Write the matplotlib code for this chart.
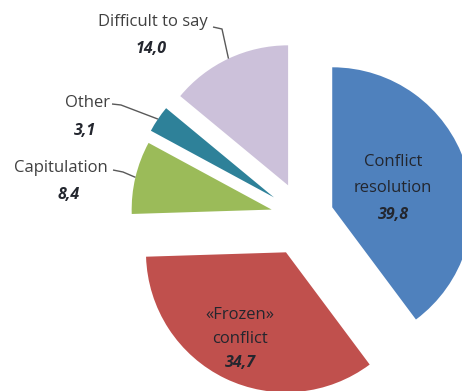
import numpy as np
import matplotlib
matplotlib.use("Agg")
import matplotlib.pyplot as plt

# Survey shares (%), drawn clockwise from 12 o'clock
categories = ["Conflict\nresolution", "\u00abFrozen\u00bb\nconflict", "Capitulation", "Other", "Difficult to say"]
values = [39.8, 34.7, 8.4, 3.1, 14.0]
colors = ["#4F81BD", "#C0504D", "#9BBB59", "#2E8199", "#CCC1DA"]
explode = [0.22, 0.28, 0.23, 0.25, 0.25]

W, H = 462, 391
R_PX = 140.0            # pie radius in pixels
CX, CY = 303.0, 217.0   # pie centre in pixels (from top-left)

plt.rcParams["font.family"] = ["Open Sans", "DejaVu Sans"]

fig = plt.figure(figsize=(W / 100, H / 100), dpi=100)
ax = fig.add_axes([0, 0, 1, 1])


def px(x, y):
    """Pixel position (from top-left) -> data coordinates."""
    return (x - CX) / R_PX, (CY - y) / R_PX


wedges, _ = ax.pie(values, colors=colors, explode=explode, startangle=90,
                   counterclock=False, radius=1.0,
                   wedgeprops=dict(linewidth=0))

ax.set_xlim(-CX / R_PX, (W - CX) / R_PX)
ax.set_ylim(-(H - CY) / R_PX, CY / R_PX)
ax.set_aspect("auto")
ax.axis("off")


def fmt(v):
    return f"{v:.1f}".replace(".", ",")


txt_color = "#23262e"
name_fs = 12.0
val_fs = 11.5


def arc_point(w):
    mid = np.deg2rad((w.theta1 + w.theta2) / 2)
    cx, cy = w.center
    return cx + w.r * np.cos(mid), cy + w.r * np.sin(mid)


# Labels inside the two large slices: one y per text line, then the value
inside = {0: (393, [162, 188], 215), 1: (240, [315, 339], 363)}
for i, (x, ys_name, y_val) in inside.items():
    for line, y in zip(categories[i].split("\n"), ys_name):
        ax.text(*px(x, y), line, ha="center", va="center",
                fontsize=name_fs, color=txt_color)
    ax.text(*px(x, y_val), fmt(values[i]), ha="center", va="center",
            fontsize=val_fs, color=txt_color, fontweight="bold", fontstyle="italic")

# Labels outside the small slices, with elbow leader lines
outside = {
    2: dict(name=(61, 168), val=(69, 195), start=(113, 170), elbow=(123, 172)),
    3: dict(name=(87, 103), val=(85, 131), start=(112, 104), elbow=(121, 105)),
    4: dict(name=(153, 22), val=(151, 49), start=(213, 27), elbow=(222, 29)),
}
for i, d in outside.items():
    ax.text(*px(*d["name"]), categories[i], ha="center", va="center",
            fontsize=name_fs, color="#404040")
    ax.text(*px(*d["val"]), fmt(values[i]), ha="center", va="center",
            fontsize=val_fs, color=txt_color, fontweight="bold", fontstyle="italic")
    ax_pt = arc_point(wedges[i])
    xs = [px(*d["start"])[0], px(*d["elbow"])[0], ax_pt[0]]
    ys = [px(*d["start"])[1], px(*d["elbow"])[1], ax_pt[1]]
    ax.plot(xs, ys, color="#595959", linewidth=1.0, solid_capstyle="butt")

fig.savefig("out.png", dpi=100, facecolor="white")
